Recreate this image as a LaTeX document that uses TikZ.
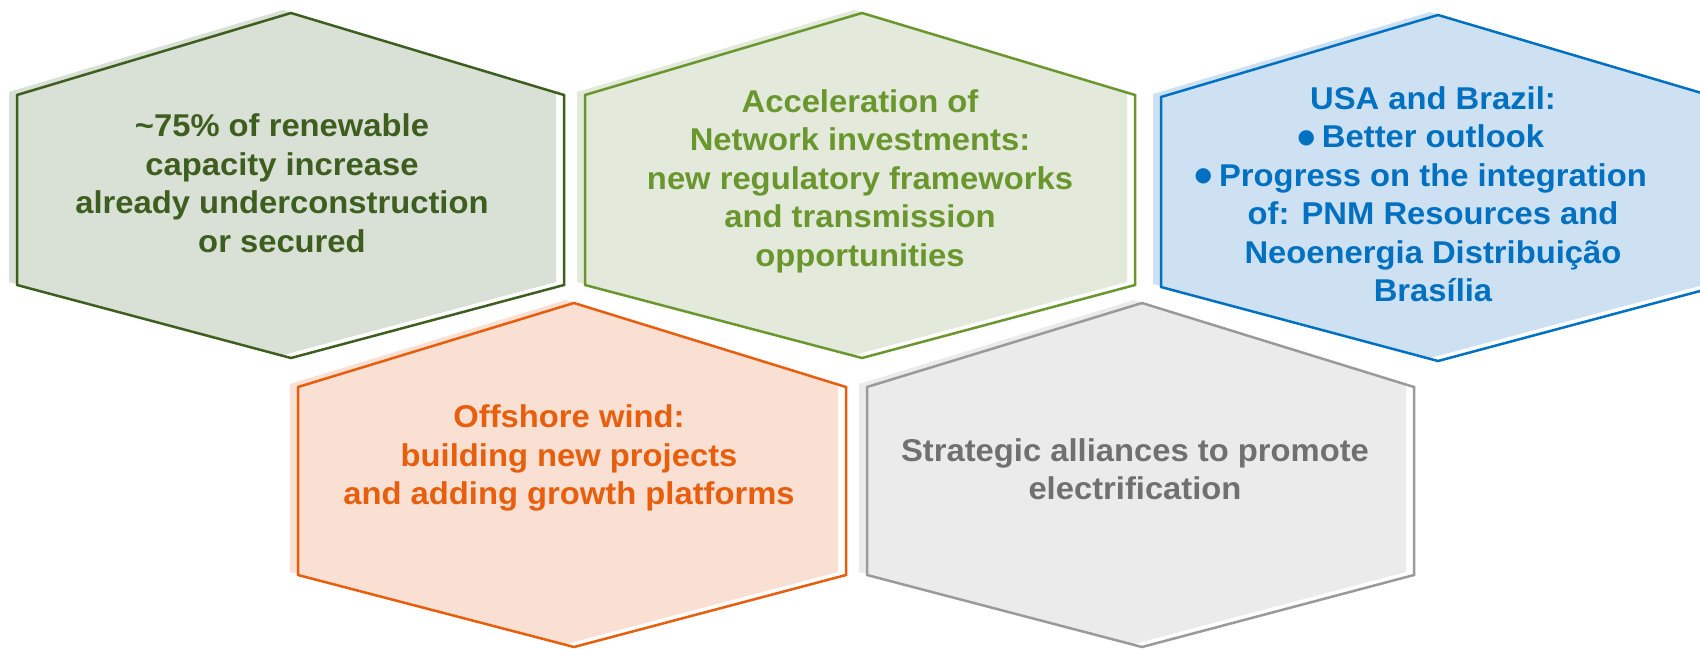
\documentclass[tikz,border=0pt]{standalone}
\usepackage{fontspec}
\setmainfont{Liberation Sans}[FakeStretch=1.04]
\newfontfamily\symfont{DejaVu Sans}
\definecolor{gAline}{RGB}{62,94,32}
\definecolor{gAfill}{RGB}{217,224,213}
\definecolor{gBline}{RGB}{106,150,46}
\definecolor{gBfill}{RGB}{227,234,219}
\definecolor{bline}{RGB}{0,112,192}
\definecolor{bfill}{RGB}{205,225,242}
\definecolor{oline}{RGB}{232,94,12}
\definecolor{ofill}{RGB}{250,224,211}
\definecolor{kline}{RGB}{154,154,154}
\definecolor{kfill}{RGB}{235,235,235}
\definecolor{ktext}{RGB}{112,112,112}
\newcommand{\myhex}[9]{%
  \begin{scope}[shift={(-8,-3)}]
    \fill[#8] (#1,#5) -- (#2,#4) -- (#3,#5) -- (#3,#6) -- (#2,#7) -- (#1,#6) -- cycle;
  \end{scope}
  \draw[#9, hexline] (#1,#5) -- (#2,#4) -- (#3,#5) -- (#3,#6) -- (#2,#7) -- (#1,#6) -- cycle;
}
\newcommand{\hexbul}{\llap{\raisebox{4.5pt}{\symfont\fontsize{20}{20}\selectfont ●}\hspace{7pt}}}
\tikzset{
  hexline/.style={line width=2.5pt, line join=miter},
  txt/.style={align=center, inner sep=0pt, font=\bfseries\fontsize{31.5}{38.5}\selectfont}
}
\begin{document}
\begin{tikzpicture}[x=1pt,y=-1pt]
\clip (0,0) rectangle (1700,648);
\useasboundingbox (0,0) rectangle (1700,648);
% top row
\myhex{17}{291}{564}{13}{95}{285}{358}{gAfill}{gAline}
\myhex{585}{862}{1135}{13}{95}{285}{358}{gBfill}{gBline}
\myhex{1161}{1438}{1715}{15}{97}{287}{361}{bfill}{bline}
% bottom row
\myhex{298}{574}{846}{303}{387}{575}{647}{ofill}{oline}
\myhex{867}{1142}{1414}{303}{387}{575}{647}{kfill}{kline}
% texts
\node[txt, text=gAline] (t1) at (282,183) {\textasciitilde75\% of renewable\\capacity increase\\already underconstruction\\or secured};
\node[txt, text=gBline] (t2) at (860,181) {Acceleration of\\Network investments:\\new regulatory frameworks\\and transmission\\opportunities};
\node[txt, text=bline] (t3) at (1433,194) {USA and Brazil:\\\hexbul Better outlook\\\hexbul Progress on the integration\\of: PNM Resources and\\Neoenergia Distribuição\\Brasília};
\node[txt, text=oline] (t4) at (569,458) {Offshore wind:\\building new projects\\and adding growth platforms};
\node[txt, text=ktext] (t5) at (1135,469) {Strategic alliances to promote\\electrification};
\end{tikzpicture}
\end{document}
